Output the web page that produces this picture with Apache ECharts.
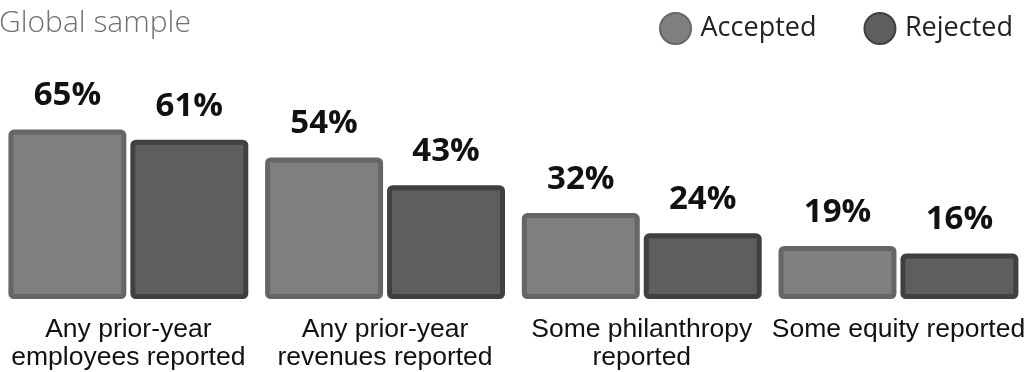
<!DOCTYPE html>
<html>
<head>
<meta charset="utf-8">
<script src="https://cdn.jsdelivr.net/npm/echarts@6/dist/echarts.min.js"></script>
<style>
  html, body { margin: 0; padding: 0; background: #fff; }
  #chart { width: 1028px; height: 372px; }
</style>
</head>
<body>
<div id="chart"></div>
<script>
// Share of applications reporting each item, by decision
const categories = [
  'Any prior-year\nemployees reported',
  'Any prior-year\nrevenues reported',
  'Some philanthropy\nreported',
  'Some equity reported'
];
const accepted = [65, 54, 32, 19];
const rejected = [61, 43, 24, 16];

const seriesNames = ['Accepted', 'Rejected'];

const FILL = ['#7f7f7f', '#5e5e5e'];
const STROKE = ['#666666', '#404040'];

// Bars are drawn with a centred outline, so the outline sits half outside the value extent.
const BAR_RATIO = 0.44;     // bar width as a share of the category band
const SLOT_OFFSET = 0.2375; // centre offset of each bar from the band centre

function barRenderer(slot, fill, stroke) {
  return function (params, api) {
    const idx = api.value(0);
    const val = api.value(1);
    const band = api.size([1, 0])[0];
    const base = api.coord([idx, 0]);
    const top = api.coord([idx, val]);
    const w = band * BAR_RATIO;
    const cx = base[0] + slot * band * SLOT_OFFSET;
    return {
      type: 'rect',
      shape: { x: cx - w / 2, y: top[1], width: w, height: base[1] - top[1], r: 3 },
      style: { fill: fill, stroke: stroke, lineWidth: 5 },
      textContent: {
        style: {
          text: val + '%',
          fill: '#111',
          fontFamily: 'Open Sans',
          fontWeight: 'bold',
          fontSize: 33
        }
      },
      textConfig: { position: 'top', distance: 17 }
    };
  };
}

function toPoints(values) {
  return values.map(function (v, i) { return [i, v]; });
}

const chart = echarts.init(document.getElementById('chart'), null, { renderer: 'canvas' });

chart.setOption({
  animation: false,
  backgroundColor: '#fff',
  title: {
    text: 'Global sample',
    left: -6,
    top: 3,
    textStyle: {
      fontFamily: 'Open Sans',
      fontWeight: 300,
      fontSize: 30,
      color: '#707070'
    }
  },
  legend: {
    data: [
      { name: seriesNames[0], itemStyle: { color: FILL[0], borderColor: STROKE[0], borderWidth: 2 } },
      { name: seriesNames[1], itemStyle: { color: FILL[1], borderColor: STROKE[1], borderWidth: 2 } }
    ],
    right: 10,
    top: 7,
    icon: 'circle',
    itemWidth: 32,
    itemHeight: 31,
    itemGap: 47,
    textStyle: {
      fontFamily: 'Open Sans',
      fontSize: 27,
      color: '#222',
      padding: [0, 0, 0, 4]
    }
  },
  grid: { left: 0, right: 0, top: 43.5, bottom: 75.5 },
  xAxis: {
    type: 'category',
    data: categories,
    axisLine: { show: false },
    axisTick: { show: false },
    axisLabel: {
      interval: 0,
      margin: 19,
      fontFamily: 'Liberation Sans',
      fontSize: 26.5,
      lineHeight: 28,
      color: '#111'
    }
  },
  yAxis: {
    type: 'value',
    min: 0,
    max: 100,
    show: false,
    splitLine: { show: false }
  },
  series: [
    {
      name: seriesNames[0],
      type: 'custom',
      data: toPoints(accepted),
      encode: { x: 0, y: 1 },
      itemStyle: { color: FILL[0], borderColor: STROKE[0] },
      renderItem: barRenderer(-1, FILL[0], STROKE[0])
    },
    {
      name: seriesNames[1],
      type: 'custom',
      data: toPoints(rejected),
      encode: { x: 0, y: 1 },
      itemStyle: { color: FILL[1], borderColor: STROKE[1] },
      renderItem: barRenderer(1, FILL[1], STROKE[1])
    }
  ]
});
</script>
</body>
</html>
